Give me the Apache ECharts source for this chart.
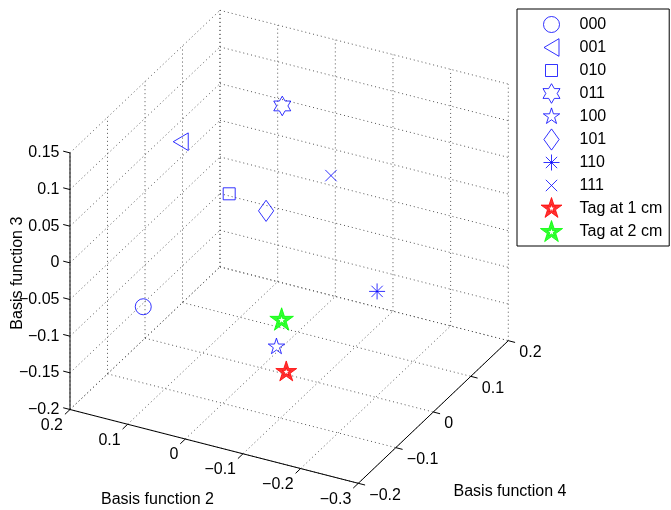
<!DOCTYPE html>
<html><head><meta charset="utf-8">
<script src="https://cdn.jsdelivr.net/npm/echarts@6/dist/echarts.min.js"></script>
<style>html,body{margin:0;padding:0;background:#fff}#main{width:671px;height:510px}</style>
</head><body><div id="main"></div>
<script>
// ---- Data: each point is [Basis function 2, Basis function 4, Basis function 3] ----
const seriesNames = ['000', '001', '010', '011', '100', '101', '110', '111', 'Tag at 1 cm', 'Tag at 2 cm'];
const p000 = [[0.138, -0.10, -0.096]];
const p001 = [[0.138, 0.00, 0.0805]];
const p010 = [[0.0865, 0.05, -0.0045]];
const p011 = [[0.027, 0.10, 0.103]];
const p100 = [[-0.093, -0.10, -0.104]];
const p101 = [[-0.010, 0.00, 0.016]];
const p110 = [[-0.170, 0.05, -0.086]];
const p111 = [[-0.0575, 0.10, 0.025]];
const tag1 = [[-0.110, -0.10, -0.135]];
const tag2 = [[-0.102, -0.10, -0.066]];

const bf2Ticks = [0.2, 0.1, 0, -0.1, -0.2, -0.3];
const bf4Ticks = [-0.2, -0.1, 0, 0.1, 0.2];
const bf3Ticks = [-0.2, -0.15, -0.1, -0.05, 0, 0.05, 0.1, 0.15];
const axisTitles = ['Basis function 2', 'Basis function 4', 'Basis function 3'];

// ---- 3D box layout (orthographic projection onto the page) ----
const X0 = 0.2, X1 = -0.3, Y0 = -0.2, Y1 = 0.2, Z0 = -0.2, Z1 = 0.15;
const ORIGIN = [70, 409.5], EX = [288.3, 73.8], EY = [150, -142.6], EZ = [0, -256.6];
function project(p) {
  const u = (p[0] - X0) / (X1 - X0), v = (p[1] - Y0) / (Y1 - Y0), w = (p[2] - Z0) / (Z1 - Z0);
  return [ORIGIN[0] + u * EX[0] + v * EY[0] + w * EZ[0], ORIGIN[1] + u * EX[1] + v * EY[1] + w * EZ[1]];
}
function unit(v) { const l = Math.hypot(v[0], v[1]); return [v[0] / l, v[1] / l]; }
const ex = unit(EX), ey = unit(EY);
const FONT = '"Liberation Sans", Arial, Helvetica, sans-serif';
const fmt = v => String(v).replace('-', '\u2212');

// grid (dotted) segments on the three back planes
const gridSegs = [];
function seg(list, a, b) { const p = project(a), q = project(b); list.push([p[0], p[1], q[0], q[1]]); }
bf2Ticks.forEach(x => { seg(gridSegs, [x, Y0, Z0], [x, Y1, Z0]); seg(gridSegs, [x, Y1, Z0], [x, Y1, Z1]); });
bf4Ticks.forEach(y => { seg(gridSegs, [X0, y, Z0], [X1, y, Z0]); seg(gridSegs, [X0, y, Z0], [X0, y, Z1]); });
bf3Ticks.forEach(z => { seg(gridSegs, [X0, Y0, z], [X0, Y1, z]); seg(gridSegs, [X0, Y1, z], [X1, Y1, z]); });

// solid axes and ticks
const axisSegs = [];
seg(axisSegs, [X0, Y0, Z0], [X1, Y0, Z0]);
seg(axisSegs, [X1, Y0, Z0], [X1, Y1, Z0]);
seg(axisSegs, [X0, Y0, Z0], [X0, Y0, Z1]);
const TL = 7;
function tick(p3, d) { const p = project(p3); axisSegs.push([p[0], p[1], p[0] + d[0] * TL, p[1] + d[1] * TL]); }
bf3Ticks.forEach(z => tick([X0, Y0, z], [-ex[0], -ex[1]]));
bf2Ticks.forEach(x => tick([x, Y0, Z0], [-ey[0], -ey[1]]));
bf4Ticks.forEach(y => tick([X1, y, Z0], ex));

// texts
const texts = [];
function addText(p3, dx, dy, text, align, rot) {
  const p = project(p3); texts.push({ pos: [p[0] + dx, p[1] + dy], text, align, rot: rot || 0 });
}
bf3Ticks.forEach(z => addText([X0, Y0, z], -10.5, 0, fmt(z), 'right'));
bf2Ticks.forEach(x => addText([x, Y0, Z0], -7, 16, fmt(x), 'right'));
bf4Ticks.forEach(y => addText([X1, y, Z0], 11, 12, fmt(y), 'left'));
addText([(X0 + X1) / 2, Y0, Z0], -56.7, 53.1, axisTitles[0], 'center');
addText([X1, 0, Z0], 76.7, 79.5, axisTitles[1], 'center');
addText([X0, Y0, (Z0 + Z1) / 2], -52, -8, axisTitles[2], 'center', Math.PI / 2);

// ---- marker shapes ----
function polyPath(pts) { return pts.map((p, i) => (i ? 'L' : 'M') + p[0].toFixed(3) + ' ' + p[1].toFixed(3)).join(' ') + ' Z'; }
function starPts(n, R, r) {
  const pts = [];
  for (let i = 0; i < 2 * n; i++) { const a = -Math.PI / 2 + i * Math.PI / n; const rr = i % 2 ? r : R; pts.push([rr * Math.cos(a), rr * Math.sin(a)]); }
  return pts;
}
const PHI = 0.381966;
// thick-edged pentagram: filled outline with a small star-shaped hole in the middle
function holedStar(R, h) { return polyPath(starPts(5, R, R * PHI)) + ' ' + polyPath(starPts(5, h, h * PHI).reverse()); }
const SHAPES = {
  circle: 'M8 0 A8 8 0 1 1 -8 0 A8 8 0 1 1 8 0 Z',
  triLeft: polyPath([[-7.5, 0], [7.5, -8.8], [7.5, 8.8]]),
  square: polyPath([[-6, -6], [6, -6], [6, 6], [-6, 6]]),
  hexagram: polyPath(starPts(6, 9.8, 9.8 / Math.sqrt(3))),
  pentagram: polyPath(starPts(5, 8.6, 8.6 * PHI)),
  diamond: polyPath([[0, -10.6], [7.6, 0], [0, 10.6], [-7.6, 0]]),
  asterisk: 'M-8 0 L8 0 M0 -8 L0 8 M-5.66 -5.66 L5.66 5.66 M-5.66 5.66 L5.66 -5.66',
  cross: 'M-5.7 -5.7 L5.7 5.7 M-5.7 5.7 L5.7 -5.7',
  starRed: holedStar(11, 4.3),
  starGreen: holedStar(12.4, 4.9)
};
function framed(body, fw, fh) { return 'path://M' + (-fw / 2) + ' ' + (-fh / 2) + ' M' + (fw / 2) + ' ' + (fh / 2) + ' ' + body; }

const seriesData = [p000, p001, p010, p011, p100, p101, p110, p111, tag1, tag2];
const BLUE = { color: 'rgba(0,0,0,0)', borderColor: '#0000ff', borderWidth: 1, borderJoin: 'miter' };
const markerStyle = [
  ['circle', BLUE], ['triLeft', BLUE], ['square', BLUE], ['hexagram', BLUE], ['pentagram', BLUE],
  ['diamond', BLUE], ['asterisk', BLUE], ['cross', BLUE],
  ['starRed', { color: '#ff0000', borderColor: '#ff0000', borderWidth: 1, borderJoin: 'miter' }],
  ['starGreen', { color: '#00ff00', borderColor: '#00ff00', borderWidth: 1, borderJoin: 'miter' }]
];

const scatterSeries = seriesNames.map((name, i) => ({
  name, type: 'scatter', z: 5, silent: true,
  symbol: framed(SHAPES[markerStyle[i][0]], 30, 30), symbolSize: 30,
  itemStyle: markerStyle[i][1],
  data: seriesData[i].map(project)
}));

const legendData = seriesNames.map((name, i) => ({
  name, icon: framed(SHAPES[markerStyle[i][0]], 46, 22), itemStyle: markerStyle[i][1]
}));

function lineRenderer(style) {
  return (params, api) => {
    const a = api.coord([api.value(0), api.value(1)]), b = api.coord([api.value(2), api.value(3)]);
    return { type: 'line', shape: { x1: a[0], y1: a[1], x2: b[0], y2: b[1] }, style };
  };
}

const chart = echarts.init(document.getElementById('main'), null, { renderer: 'canvas' });
chart.setOption({
  animation: false,
  backgroundColor: '#ffffff',
  grid: { left: 0, right: 0, top: 0, bottom: 0 },
  xAxis: { type: 'value', min: 0, max: 671, show: false },
  yAxis: { type: 'value', min: 0, max: 510, inverse: true, show: false },
  legend: {
    orient: 'vertical', left: 517, top: 9, padding: [4, 7, 3, 11],
    itemWidth: 46, itemHeight: 22, itemGap: 0,
    borderColor: '#000', borderWidth: 1, backgroundColor: '#fff',
    selectedMode: false,
    textStyle: { fontSize: 16, color: '#000', fontFamily: FONT },
    data: legendData
  },
  series: [
    { type: 'custom', name: 'grid', z: 1, silent: true, data: gridSegs,
      renderItem: lineRenderer({ stroke: '#555', lineWidth: 1, lineDash: [1, 3] }) },
    { type: 'custom', name: 'axes', z: 2, silent: true, data: axisSegs,
      renderItem: lineRenderer({ stroke: '#000', lineWidth: 1 }) },
    { type: 'custom', name: 'labels', z: 3, silent: true, data: texts.map(t => t.pos),
      renderItem: (params, api) => {
        const t = texts[params.dataIndex];
        const a = api.coord([api.value(0), api.value(1)]);
        return { type: 'text', x: a[0], y: a[1], rotation: t.rot,
          style: { text: t.text, fill: '#000', fontSize: 16, fontFamily: FONT, align: t.align, verticalAlign: 'middle' } };
      } },
    ...scatterSeries
  ]
});
</script></body></html>
